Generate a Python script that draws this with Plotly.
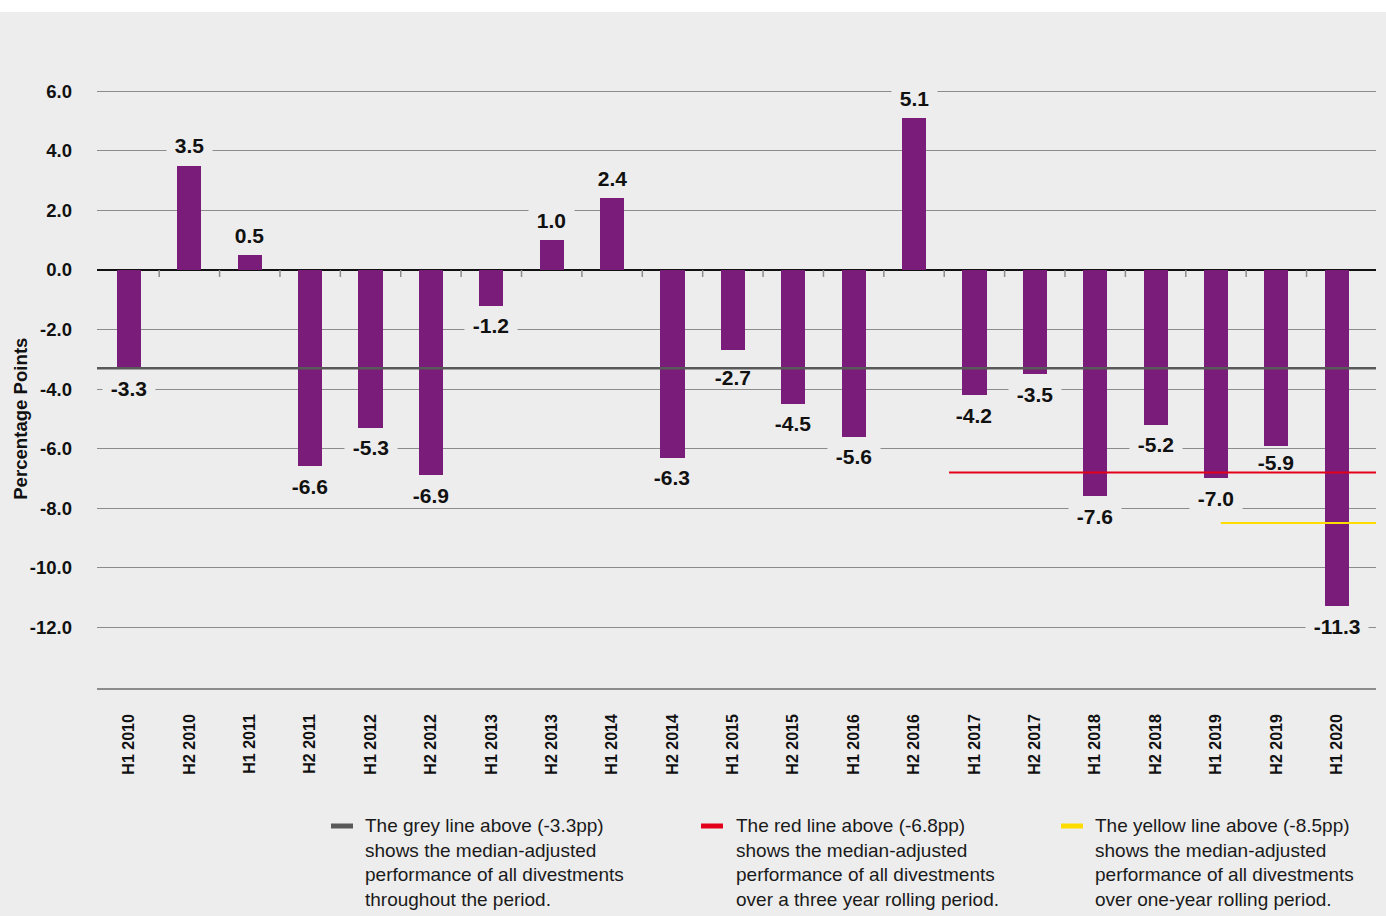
import plotly.graph_objects as go

# ---------------- data ----------------
categories = ["H1 2010", "H2 2010", "H1 2011", "H2 2011", "H1 2012", "H2 2012", "H1 2013",
              "H2 2013", "H1 2014", "H2 2014", "H1 2015", "H2 2015", "H1 2016", "H2 2016",
              "H1 2017", "H2 2017", "H1 2018", "H2 2018", "H1 2019", "H2 2019", "H1 2020"]
values = [-3.3, 3.5, 0.5, -6.6, -5.3, -6.9, -1.2, 1.0, 2.4, -6.3, -2.7, -4.5, -5.6, 5.1,
          -4.2, -3.5, -7.6, -5.2, -7.0, -5.9, -11.3]
y_ticks = [6, 4, 2, 0, -2, -4, -6, -8, -10, -12]

median_all = -3.3        # grey line, whole period
median_3yr = -6.8        # red line, three-year rolling
median_1yr = -8.5        # yellow line, one-year rolling
red_start = 13.58        # x position (category units) where the red line starts
yellow_start = 18.08     # x position where the yellow line starts

legend_texts = [
    "The grey line above (-3.3pp)<br>shows the median-adjusted<br>performance of all divestments<br>throughout the period.",
    "The red line above (-6.8pp)<br>shows the median-adjusted<br>performance of all divestments<br>over a three year rolling period.",
    "The yellow line above (-8.5pp)<br>shows the median-adjusted<br>performance of all divestments<br>over one-year rolling period.",
]

# ---------------- style ----------------
BG = "#ededed"
BAR = "#7a1c79"
GRID = "#8c8c8c"
GREY_LINE = "#595959"
RED = "#e3001b"
YELLOW = "#ffdc00"
FONT = "Liberation Sans, Arial, sans-serif"

X_RANGE = [-0.53, 20.65]
Y_RANGE = [-14.04, 7.89]
M_L, M_R, M_T, M_B = 97, 10, 35, 228
W, H = 1386, 916
plot_w = W - M_L - M_R
plot_h = H - M_T - M_B
ppu = plot_h / (Y_RANGE[1] - Y_RANGE[0])   # pixels per y unit

def px_x(p):
    return (p - M_L) / plot_w

def px_y(p):
    return (H - M_B - p) / plot_h

fig = go.Figure()

fig.add_trace(go.Bar(
    x=list(range(len(categories))), y=values, width=0.4,
    marker=dict(color=BAR, line=dict(width=0)), hoverinfo="skip", showlegend=False,
))

# small ticks hanging below the zero line between categories
tick_x = [i + 0.5 for i in range(len(categories) - 1)]
fig.add_trace(go.Scatter(
    x=tick_x, y=[0] * len(tick_x), mode="markers",
    marker=dict(size=1, color="rgba(0,0,0,0)"),
    error_y=dict(type="data", symmetric=False, array=[0] * len(tick_x),
                 arrayminus=[7 / ppu] * len(tick_x), width=0, thickness=1.5, color=GRID),
    hoverinfo="skip", showlegend=False,
))

# reference lines (value, x-start) used for drawing and for label collision checks
ref_lines = [(median_all, X_RANGE[0], GREY_LINE, 2.5),
             (median_3yr, red_start, RED, 2),
             (median_1yr, yellow_start, YELLOW, 2)]

shapes = [
    dict(type="line", xref="x", yref="y", x0=x0, x1=X_RANGE[1], y0=yv, y1=yv,
         line=dict(color=c, width=w))
    for yv, x0, c, w in ref_lines
]
# white strip at the very top
shapes.append(dict(type="rect", xref="paper", yref="paper", x0=-0.2, x1=1.2, y0=px_y(12), y1=px_y(-20),
                   fillcolor="white", line=dict(width=0), layer="above"))

# legend dashes
leg_colors = [GREY_LINE, RED, YELLOW]
leg_dash_x = [(331, 353), (701, 723), (1061, 1083)]
leg_text_x = [363, 734, 1093]
for c, (a, b) in zip(leg_colors, leg_dash_x):
    shapes.append(dict(type="line", xref="paper", yref="paper", x0=px_x(a), x1=px_x(b),
                       y0=px_y(826), y1=px_y(826), line=dict(color=c, width=5)))

annotations = []
# value labels: pick an offset from the bar end that keeps the digits clear of the reference lines
CLEAR = 9.0      # px between label centre and a reference line
BOX_HALF = 15.0  # px, half height of the label background box
candidates = [20, 19, 18, 17, 16, 21, 22, 23, 24, 25, 26, 27, 28, 29, 30]
for i, v in enumerate(values):
    sign = 1 if v > 0 else -1
    lines_here = [yv for yv, x0, _, _ in ref_lines if x0 <= i + 0.3]
    chosen = candidates[0]
    for off in candidates:
        centre_val = v + sign * off / ppu
        if all(abs(yv - centre_val) * ppu > CLEAR for yv in lines_here):
            chosen = off
            break
    centre_val = v + sign * chosen / ppu
    near_grid = any(abs(g - centre_val) * ppu < 10 for g in y_ticks)
    covers_line = any(abs(yv - centre_val) * ppu < BOX_HALF for yv in lines_here)
    annotations.append(dict(
        x=i, y=v, xref="x", yref="y", text=f"&nbsp;{v:.1f}&nbsp;", showarrow=False,
        yanchor="middle", yshift=sign * chosen,
        font=dict(family=FONT, size=21, color="#111111", weight="bold"),
        bgcolor=BG if (near_grid and not covers_line) else "rgba(0,0,0,0)", borderpad=2,
    ))

# y-axis title
annotations.append(dict(
    xref="paper", yref="y", x=px_x(21), y=-5.0, text="Percentage Points", textangle=-90,
    showarrow=False, xanchor="center", yanchor="middle",
    font=dict(family=FONT, size=18.6, color="#111111", weight="bold"),
))

# legend texts
for t, xp in zip(legend_texts, leg_text_x):
    annotations.append(dict(
        xref="paper", yref="paper", x=px_x(xp), y=px_y(862.5), text=t, showarrow=False,
        xanchor="left", yanchor="middle", align="left",
        font=dict(family=FONT, size=19, color="#1a1a1a"),
    ))

fig.update_layout(
    width=W, height=H,
    margin=dict(l=M_L, r=M_R, t=M_T, b=M_B, pad=0),
    paper_bgcolor=BG, plot_bgcolor=BG,
    shapes=shapes, annotations=annotations,
    bargap=0, showlegend=False,
    font=dict(family=FONT, color="#111111"),
)
fig.update_xaxes(
    range=X_RANGE, tickmode="array", tickvals=list(range(len(categories))), ticktext=categories,
    tickangle=-90, tickfont=dict(family=FONT, size=16, color="#111111", weight="bold"),
    showgrid=False, zeroline=False, ticks="", ticklabelstandoff=18,
    showline=True, linecolor=GRID, linewidth=1.5, fixedrange=True,
)
fig.update_yaxes(
    range=Y_RANGE, tickmode="array", tickvals=y_ticks, ticktext=[f"{t:.1f}" for t in y_ticks],
    tickfont=dict(family=FONT, size=18.5, color="#111111", weight="bold"),
    showgrid=True, gridcolor=GRID, gridwidth=1,
    zeroline=True, zerolinecolor="#111111", zerolinewidth=1.5,
    ticks="", ticklabelstandoff=24, showline=False, fixedrange=True,
)

fig.write_html("out.html")
